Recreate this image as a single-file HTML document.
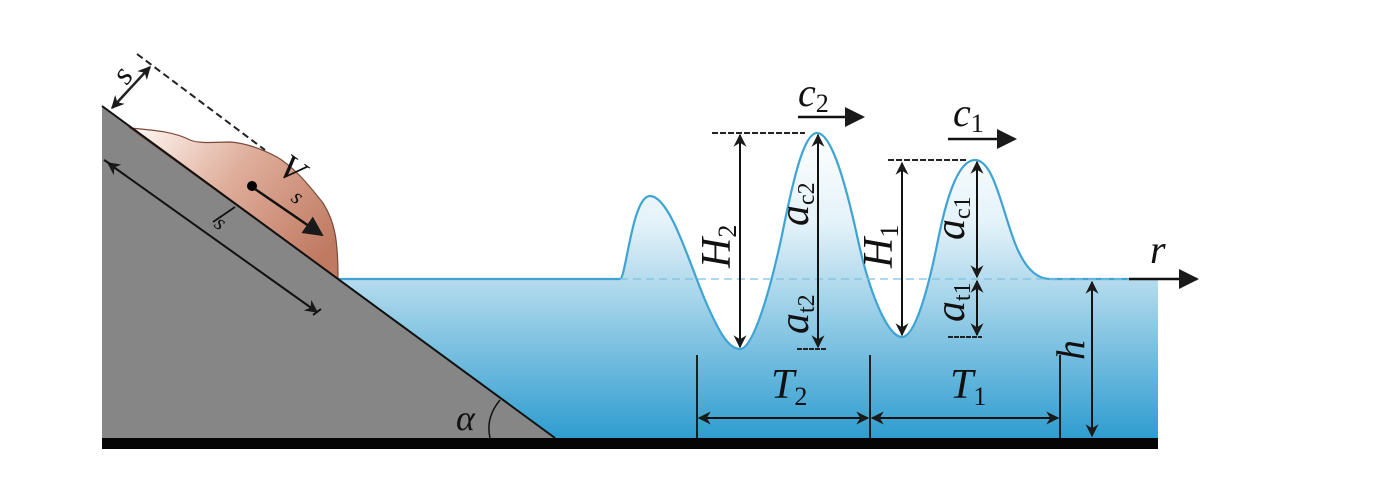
<!DOCTYPE html>
<html><head><meta charset="utf-8"><style>
html,body{margin:0;padding:0;background:#fff;}
svg{display:block}
text{font-family:"Liberation Serif",serif;font-style:italic;fill:#111}
</style></head><body>
<svg width="1386" height="504" viewBox="0 0 1386 504" xmlns="http://www.w3.org/2000/svg">
<defs>
<linearGradient id="wg" gradientUnits="userSpaceOnUse" x1="0" y1="130" x2="0" y2="438">
<stop offset="0" stop-color="#ffffff"/>
<stop offset="0.3" stop-color="#e4f2f9"/>
<stop offset="0.49" stop-color="#b4dbed"/>
<stop offset="1" stop-color="#2f9dd0"/>
</linearGradient>
<linearGradient id="sg" gradientUnits="userSpaceOnUse" x1="150" y1="120" x2="320" y2="260">
<stop offset="0" stop-color="#fdf3ee"/>
<stop offset="0.45" stop-color="#dfae9b"/>
<stop offset="1" stop-color="#c07a62"/>
</linearGradient>
<marker id="ah" viewBox="0 0 10 10" refX="9" refY="5" markerWidth="15" markerHeight="13" orient="auto-start-reverse" markerUnits="userSpaceOnUse">
<path d="M0,0 L10,5 L0,10 L3,5 z" fill="#1a1a1a"/>
</marker>
<marker id="ahb" viewBox="0 0 10 10" refX="9" refY="5" markerWidth="22" markerHeight="20" orient="auto" markerUnits="userSpaceOnUse">
<path d="M0,0 L10,5 L0,10 z" fill="#1a1a1a"/>
</marker>
</defs>
<path d="M338,279 L620,279 C626,279 632,196 650,196 C670,196 690,265 705,300 C718,330 728,349 740,349 C752,349 768,300 782,235 C795,170 805,133 817,133 C831,133 845,180 858,240 C870,295 888,337 902,337 C915,337 928,290 938,240 C948,190 960,160 975,160 C992,160 1000,200 1012,235 C1022,265 1035,279 1050,279 L1158,279 L1158,438 L555,438 Z" fill="url(#wg)"/>
<path d="M338,279 L620,279 C626,279 632,196 650,196 C670,196 690,265 705,300 C718,330 728,349 740,349 C752,349 768,300 782,235 C795,170 805,133 817,133 C831,133 845,180 858,240 C870,295 888,337 902,337 C915,337 928,290 938,240 C948,190 960,160 975,160 C992,160 1000,200 1012,235 C1022,265 1035,279 1050,279 L1130,279" fill="none" stroke="#3fa3d4" stroke-width="2.2"/>
<line x1="620" y1="279" x2="1130" y2="279" stroke="#7fc1e2" stroke-width="1.2" stroke-dasharray="8,5"/>
<polygon points="102,106 555,438 102,438" fill="#868686"/>
<path d="M130,128 C150,130 173,131 190,140 C200,144 215,142 230,142 C245,143 260,148 277,157 C292,166 305,180 323,203 C335,222 338,240 338,279 Z" fill="url(#sg)" stroke="#7a4a3a" stroke-width="1.2"/>
<line x1="102" y1="106" x2="555" y2="438" stroke="#111" stroke-width="2"/>
<rect x="102" y="438" width="1056" height="11" fill="#050505"/>
<line x1="137" y1="54" x2="265" y2="150" stroke="#222" stroke-width="2" stroke-dasharray="7,4"/>
<line x1="112" y1="108" x2="150" y2="67" stroke="#222" stroke-width="2.5" marker-start="url(#ah)" marker-end="url(#ah)"/>
<text x="0" y="0" font-size="32" font-style="normal" transform="translate(127,86) rotate(-55)">s</text>
<line x1="108" y1="163" x2="317" y2="312" stroke="#111" stroke-width="2" marker-start="url(#ah)" marker-end="url(#ah)"/>
<line x1="104" y1="160" x2="112" y2="165" stroke="#111" stroke-width="2"/>
<line x1="313" y1="315" x2="321" y2="309" stroke="#111" stroke-width="2"/>
<line x1="213" y1="222" x2="235" y2="207" stroke="#111" stroke-width="1.8"/>
<text transform="translate(213,226) rotate(36)" font-size="22">s</text>
<circle cx="252" cy="186" r="5" fill="#000"/>
<line x1="255" y1="189" x2="322" y2="235" stroke="#111" stroke-width="2.5" marker-end="url(#ahb)"/>
<text transform="translate(276,172) rotate(36)" font-size="36">V</text>
<text transform="translate(290,200) rotate(36)" font-size="22">s</text>
<path d="M500,400 C490,412 487,425 490,438" fill="none" stroke="#111" stroke-width="1.5"/>
<text x="456" y="430" font-size="36">α</text>
<line x1="712" y1="133" x2="805" y2="133" stroke="#222" stroke-width="2" stroke-dasharray="6,2"/>
<line x1="740" y1="135" x2="740" y2="347" stroke="#111" stroke-width="2" marker-start="url(#ah)" marker-end="url(#ah)"/>
<text transform="translate(730,268) rotate(-90)" font-size="42">H<tspan font-size="26" font-style="normal" dy="6">2</tspan></text>
<line x1="818" y1="135" x2="818" y2="347" stroke="#111" stroke-width="2" marker-start="url(#ah)" marker-end="url(#ah)"/>
<line x1="797" y1="349" x2="827" y2="349" stroke="#222" stroke-width="2" stroke-dasharray="5,1"/>
<text transform="translate(808,226) rotate(-90)" font-size="42">a<tspan font-size="24" font-style="normal" dy="6">c2</tspan></text>
<text transform="translate(808,334) rotate(-90)" font-size="42">a<tspan font-size="24" font-style="normal" dy="6">t2</tspan></text>
<line x1="798" y1="117" x2="863" y2="117" stroke="#111" stroke-width="2.5" marker-end="url(#ahb)"/>
<text x="798" y="106" font-size="40">c<tspan font-size="26" font-style="normal" dy="6">2</tspan></text>
<line x1="888" y1="160" x2="967" y2="160" stroke="#222" stroke-width="2" stroke-dasharray="6,2"/>
<line x1="902" y1="163" x2="902" y2="335" stroke="#111" stroke-width="2" marker-start="url(#ah)" marker-end="url(#ah)"/>
<text transform="translate(892,268) rotate(-90)" font-size="42">H<tspan font-size="26" font-style="normal" dy="6">1</tspan></text>
<line x1="977" y1="162" x2="977" y2="277" stroke="#111" stroke-width="2" marker-start="url(#ah)" marker-end="url(#ah)"/>
<line x1="977" y1="281" x2="977" y2="335" stroke="#111" stroke-width="2" marker-start="url(#ah)" marker-end="url(#ah)"/>
<line x1="948" y1="337" x2="982" y2="337" stroke="#222" stroke-width="2" stroke-dasharray="5,1"/>
<text transform="translate(964,240) rotate(-90)" font-size="42">a<tspan font-size="24" font-style="normal" dy="6">c1</tspan></text>
<text transform="translate(964,322) rotate(-90)" font-size="42">a<tspan font-size="24" font-style="normal" dy="6">t1</tspan></text>
<line x1="948" y1="139" x2="1015" y2="139" stroke="#111" stroke-width="2.5" marker-end="url(#ahb)"/>
<text x="953" y="126" font-size="40">c<tspan font-size="26" font-style="normal" dy="6">1</tspan></text>
<line x1="1129" y1="279" x2="1197" y2="279" stroke="#111" stroke-width="2.5" marker-end="url(#ahb)"/>
<text x="1150" y="263" font-size="40">r</text>
<line x1="1092" y1="282" x2="1092" y2="436" stroke="#111" stroke-width="2" marker-start="url(#ah)" marker-end="url(#ah)"/>
<text transform="translate(1084,360) rotate(-90)" font-size="40">h</text>
<line x1="697" y1="355" x2="697" y2="438" stroke="#111" stroke-width="1.8"/>
<line x1="870" y1="355" x2="870" y2="438" stroke="#111" stroke-width="1.8"/>
<line x1="1060" y1="355" x2="1060" y2="438" stroke="#111" stroke-width="1.8"/>
<line x1="699" y1="418" x2="868" y2="418" stroke="#111" stroke-width="2" marker-start="url(#ah)" marker-end="url(#ah)"/>
<line x1="872" y1="418" x2="1058" y2="418" stroke="#111" stroke-width="2" marker-start="url(#ah)" marker-end="url(#ah)"/>
<text x="771" y="398" font-size="42">T<tspan font-size="26" font-style="normal" dy="7">2</tspan></text>
<text x="950" y="398" font-size="42">T<tspan font-size="26" font-style="normal" dy="7">1</tspan></text>
</svg>
</body></html>
